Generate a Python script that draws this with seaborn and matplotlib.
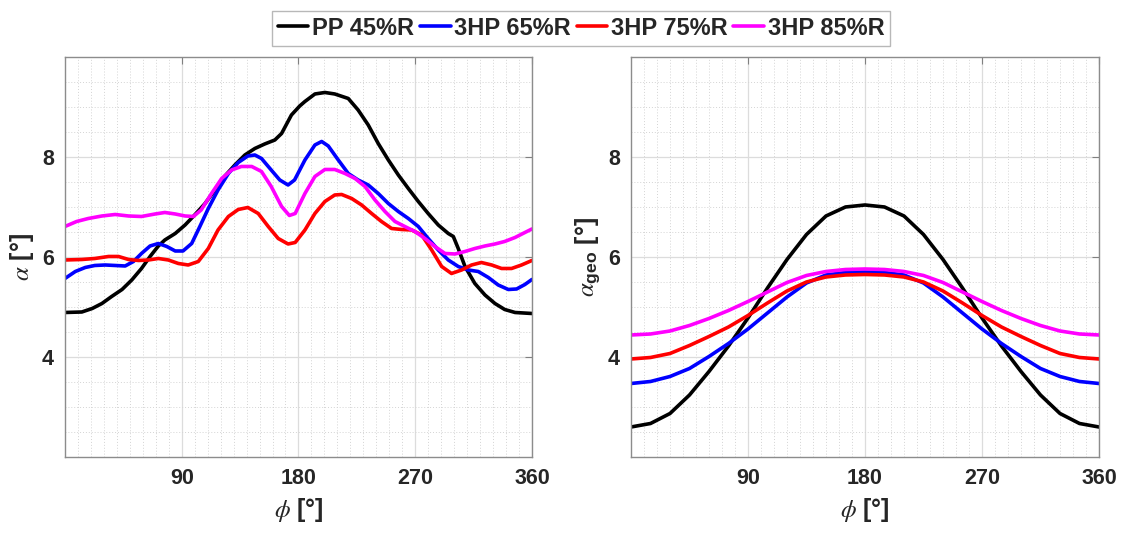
import numpy as np
import pandas as pd
import matplotlib
matplotlib.use("Agg")
import matplotlib.pyplot as plt
from matplotlib.lines import Line2D
from matplotlib.ticker import MultipleLocator
import seaborn as sns

# ---------------- data ----------------
series_names = ["PP 45%R", "3HP 65%R", "3HP 75%R", "3HP 85%R"]
series_colors = ["#000000", "#0000FF", "#FF0000", "#FF00FF"]

# Left panel: alpha vs phi
pp45_phi = [0, 13, 21, 28.5, 36, 44, 51.5, 59, 65.6, 72, 77, 85, 92.6, 100, 108, 115.6, 123, 131, 138.7,
            146.4, 154, 161.8, 167, 174.6, 181, 185, 192.7, 200.4, 208, 218.4, 226, 233.8, 241.5, 249.3,
            257, 264.7, 272.4, 280, 287.8, 295.5, 299.4, 303.2, 308.4, 316, 323.8, 331.5, 339, 347, 360]
pp45_alpha = [4.89, 4.90, 4.97, 5.07, 5.21, 5.35, 5.54, 5.77, 6.01, 6.22, 6.34, 6.47, 6.64, 6.84, 7.07, 7.34, 7.61, 7.84, 8.04,
              8.17, 8.26, 8.34, 8.47, 8.84, 9.02, 9.11, 9.26, 9.29, 9.26, 9.17, 8.94, 8.64, 8.27, 7.94,
              7.64, 7.37, 7.11, 6.87, 6.64, 6.47, 6.41, 6.17, 5.81, 5.47, 5.24, 5.07, 4.95, 4.89, 4.87]

hp65_phi = [0, 8, 15.6, 23, 31, 38.7, 46.4, 52.8, 59, 65.6, 72, 78.5, 85, 91, 97.7, 104, 110.5, 118, 126, 133.6,
            141, 146.4, 151.5, 159, 165.6, 172, 177, 181.8, 185, 192.7, 197.9, 203, 210.7, 218.4, 226, 233.8,
            241.5, 249.3, 257, 264.7, 272.4, 280, 287.8, 295.5, 303.2, 311, 318.6, 326.4, 334, 341.8, 348.2, 354.6, 360]
hp65_alpha = [5.57, 5.71, 5.79, 5.83, 5.84, 5.83, 5.82, 5.91, 6.07, 6.22, 6.27, 6.21, 6.12, 6.12, 6.27, 6.61, 6.97, 7.34, 7.67, 7.89,
              8.02, 8.04, 7.97, 7.74, 7.54, 7.44, 7.54, 7.78, 7.94, 8.24, 8.31, 8.22, 7.94, 7.67, 7.54, 7.44,
              7.27, 7.07, 6.91, 6.77, 6.61, 6.37, 6.14, 5.94, 5.81, 5.74, 5.71, 5.59, 5.44, 5.35, 5.36, 5.45, 5.55]

hp75_phi = [0, 13, 23, 33.6, 41.3, 49, 56.7, 64.4, 72, 79.7, 87.4, 95, 102.8, 110.5, 118, 126, 133.6, 141, 149,
            156.7, 164.4, 172, 177.5, 185, 192.7, 200.4, 208, 213.3, 221, 228.7, 236.4, 244, 251.8, 259.5,
            267.2, 275, 282.7, 290.4, 298, 305.8, 313.5, 321, 329, 336.6, 344.3, 352, 360]
hp75_alpha = [5.94, 5.95, 5.97, 6.01, 6.01, 5.95, 5.93, 5.94, 5.97, 5.94, 5.87, 5.84, 5.91, 6.17, 6.54, 6.81, 6.95, 6.99, 6.87,
              6.61, 6.37, 6.26, 6.29, 6.54, 6.87, 7.11, 7.24, 7.25, 7.17, 7.04, 6.87, 6.71, 6.57, 6.55,
              6.54, 6.44, 6.14, 5.81, 5.67, 5.74, 5.84, 5.89, 5.84, 5.77, 5.77, 5.84, 5.93]

hp85_phi = [0, 9, 18, 28.5, 38.7, 49, 59, 69.5, 77, 85, 92.6, 99, 105, 113, 120.8, 128.5, 136, 144, 151.5,
            159, 167, 173, 177.5, 185, 192.7, 200.4, 208, 215.9, 223.6, 231.3, 239, 246.7, 254.4, 262,
            269.8, 277.5, 285.2, 293, 300.7, 308.4, 316, 323.8, 331.5, 339, 347, 354.6, 360]
hp85_alpha = [6.61, 6.71, 6.77, 6.82, 6.85, 6.82, 6.81, 6.86, 6.89, 6.86, 6.82, 6.81, 6.94, 7.27, 7.57, 7.74, 7.81, 7.81, 7.71,
              7.41, 7.01, 6.83, 6.87, 7.27, 7.61, 7.75, 7.75, 7.67, 7.57, 7.41, 7.14, 6.91, 6.71, 6.61,
              6.51, 6.37, 6.21, 6.07, 6.06, 6.11, 6.17, 6.22, 6.26, 6.31, 6.39, 6.49, 6.56]

# Right panel: alpha_geo vs phi
geo_phi = [0, 15, 30, 45, 60, 75, 90, 105, 120, 135, 150, 165, 180,
           195, 210, 225, 240, 255, 270, 285, 300, 315, 330, 345, 360]
pp45_geo = [2.60, 2.67, 2.87, 3.24, 3.71, 4.22, 4.78, 5.38, 5.95, 6.45, 6.82, 7.00, 7.04,
            7.00, 6.82, 6.45, 5.95, 5.38, 4.78, 4.22, 3.71, 3.24, 2.87, 2.67, 2.60]
hp65_geo = [3.47, 3.51, 3.61, 3.77, 4.01, 4.27, 4.56, 4.88, 5.20, 5.48, 5.64, 5.69, 5.70,
            5.69, 5.64, 5.48, 5.20, 4.88, 4.56, 4.27, 4.01, 3.77, 3.61, 3.51, 3.47]
hp75_geo = [3.96, 3.99, 4.07, 4.23, 4.41, 4.60, 4.83, 5.08, 5.32, 5.50, 5.60, 5.64, 5.65,
            5.64, 5.60, 5.50, 5.32, 5.08, 4.83, 4.60, 4.41, 4.23, 4.07, 3.99, 3.96]
hp85_geo = [4.44, 4.46, 4.52, 4.63, 4.77, 4.93, 5.11, 5.30, 5.49, 5.63, 5.71, 5.75, 5.76,
            5.75, 5.71, 5.63, 5.49, 5.30, 5.11, 4.93, 4.77, 4.63, 4.52, 4.46, 4.44]

x_ticks = [90, 180, 270, 360]
y_ticks = [4, 6, 8]

# ---------------- build long data ----------------
def to_long(pairs):
    frames = []
    for name, (ph, vals) in zip(series_names, pairs):
        frames.append(pd.DataFrame({"phi": ph, "val": vals, "series": name}))
    return pd.concat(frames, ignore_index=True)

df_left = to_long([(pp45_phi, pp45_alpha), (hp65_phi, hp65_alpha),
                   (hp75_phi, hp75_alpha), (hp85_phi, hp85_alpha)])
df_right = to_long([(geo_phi, pp45_geo), (geo_phi, hp65_geo),
                    (geo_phi, hp75_geo), (geo_phi, hp85_geo)])

# ---------------- style ----------------
sns.set_theme(style="white")
plt.rcParams["font.family"] = ["Liberation Sans", "DejaVu Sans"]
plt.rcParams["mathtext.fontset"] = "custom"
plt.rcParams["mathtext.it"] = "STIXGeneral:italic"
plt.rcParams["mathtext.rm"] = "Liberation Sans:bold"
plt.rcParams["mathtext.bf"] = "Liberation Sans:bold"

palette = dict(zip(series_names, series_colors))

fig = plt.figure(figsize=(11.26, 5.33), dpi=100)
ax1 = fig.add_axes([0.0577, 0.1426, 0.4147, 0.7505])
ax2 = fig.add_axes([0.5604, 0.1426, 0.4156, 0.7505])

for ax, df in ((ax1, df_left), (ax2, df_right)):
    sns.lineplot(data=df, x="phi", y="val", hue="series", hue_order=series_names,
                 palette=palette, estimator=None, sort=False, linewidth=2.6,
                 legend=False, ax=ax)
    for ln in ax.get_lines():
        ln.set_solid_joinstyle("round")
        ln.set_solid_capstyle("round")
    ax.set_xlim(0, 360)
    ax.set_ylim(2, 10)
    ax.set_xticks(x_ticks)
    ax.set_yticks(y_ticks)
    ax.xaxis.set_minor_locator(MultipleLocator(10))
    ax.yaxis.set_minor_locator(MultipleLocator(0.5))
    ax.set_axisbelow(True)
    ax.grid(which="major", color="#dcdcdc", linewidth=0.9, linestyle="-")
    ax.grid(which="minor", color="#d4d4d4", linewidth=0.7, linestyle=(0, (1, 2)))
    ax.tick_params(which="major", direction="in", length=5, width=0.8, color="#808080",
                   top=True, right=True, labelsize=15.5, labelcolor="#262626", pad=8)
    ax.tick_params(which="minor", length=0)
    for sp in ax.spines.values():
        sp.set_visible(True)
        sp.set_color("#8c8c8c")
        sp.set_linewidth(1.0)
    for lbl in ax.get_xticklabels() + ax.get_yticklabels():
        lbl.set_fontweight("bold")
    ax.set_xlabel(r"$\phi$ [°]", fontsize=18, fontweight="bold", color="#262626", labelpad=5)

ax1.set_ylabel(r"$\alpha$ [°]", fontsize=18, fontweight="bold", color="#262626", labelpad=4)
ax2.set_ylabel(r"$\alpha_{\mathbf{geo}}$ [°]", fontsize=18, fontweight="bold", color="#262626", labelpad=4)

handles = [Line2D([0], [0], color=c, linewidth=2.6) for c in series_colors]
leg = fig.legend(handles, series_names, loc="center", bbox_to_anchor=(0.516, 0.947), ncol=4,
                 frameon=True, fancybox=False, edgecolor="#a6a6a6",
                 prop={"weight": "bold", "size": 17}, handlelength=1.3,
                 handletextpad=0.15, columnspacing=0.25, borderpad=0.25)
leg.get_frame().set_linewidth(1.0)

fig.savefig("out.png", dpi=100)
